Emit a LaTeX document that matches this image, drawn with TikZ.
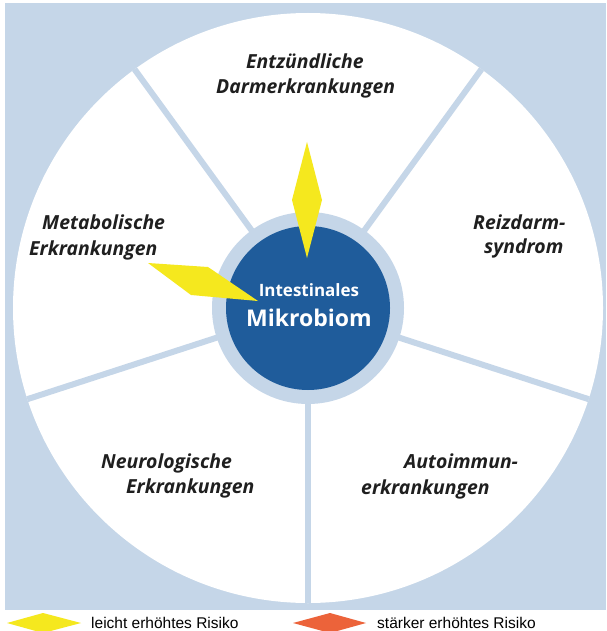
\documentclass[tikz,border=0pt]{standalone}
\usepackage{fontspec}
\setmainfont{Liberation Sans}
\newfontfamily\wheelfont{Open Sans}
\definecolor{paleblue}{RGB}{197,214,232}
\definecolor{deepblue}{RGB}{31,92,155}
\definecolor{riskyellow}{RGB}{245,232,30}
\definecolor{riskorange}{RGB}{236,99,58}

\begin{document}
\begin{tikzpicture}[x=1pt,y=-1pt,
  sector/.style={font=\wheelfont\bfseries\itshape\fontsize{19.4}{25}\selectfont,
    inner sep=0pt,anchor=base west,text=black!88},
  spoke/.style={draw=paleblue,line width=6pt},
  disc/.style={circle,inner sep=0pt},
  legend/.style={font=\fontsize{15.5}{18}\selectfont,inner sep=0pt,anchor=base west}]

  \useasboundingbox (0,0) rectangle (606,631);
  \fill[white] (0,0) rectangle (606,631);
  \fill[paleblue] (5,3) rectangle (606,610);

  \node[disc,fill=white,minimum size=590pt] (wheel) at (308,308) {};
  \foreach \a in {54,126,198,270,342}
    \draw[spoke] (wheel.center) -- (wheel.\a);
  \node[disc,fill=paleblue,minimum size=192pt] (ring) at (wheel.center) {};
  \node[disc,fill=deepblue,minimum size=164pt] (core) at (wheel.center) {};

  \node[font=\wheelfont\bfseries\fontsize{17}{20}\selectfont,text=white,
    inner sep=0pt,anchor=base] (intest) at (309,296) {Intestinales};
  \node[font=\wheelfont\bfseries\fontsize{23}{26}\selectfont,text=white,
    inner sep=0pt,anchor=base] (mikro) at (309,326) {Mikrobiom};

  % risk markers
  \fill[riskyellow] (307,142) -- (322,200) -- (307,258) -- (292,200) -- cycle;
  \fill[riskyellow] (148,263) -- (208,267) -- (258,301) -- (191,295) -- cycle;

  \node[sector] (ced1) at (246,69) {Entzündliche};
  \node[sector] (ced2) at (216,94) {Darmerkrankungen};
  \node[sector] (reiz1) at (473,229) {Reizdarm-};
  \node[sector] (reiz2) at (484,253) {syndrom};
  \node[sector] (meta1) at (42,229) {Metabolische};
  \node[sector] (meta2) at (29,255) {Erkrankungen};
  \node[sector] (neuro1) at (101,468) {Neurologische};
  \node[sector] (neuro2) at (126,493) {Erkrankungen};
  \node[sector] (auto1) at (404,468) {Autoimmun-};
  \node[sector] (auto2) at (361,494) {erkrankungen};

  % legend
  \fill[riskyellow] (7,623) -- (43,613) -- (81,623) -- (43,633) -- cycle;
  \node[legend] (light) at (91,628) {leicht erhöhtes Risiko};
  \fill[riskorange] (293,623) -- (330,613) -- (366,623) -- (330,633) -- cycle;
  \node[legend] (strong) at (377,628) {stärker erhöhtes Risiko};
\end{tikzpicture}
\end{document}
